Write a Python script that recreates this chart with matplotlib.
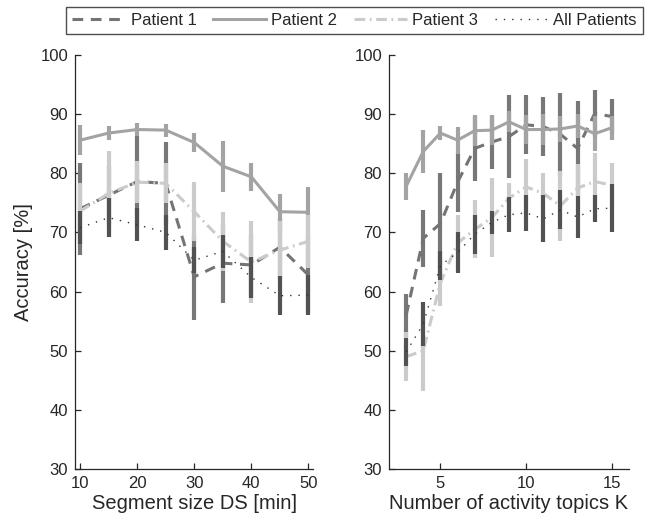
import matplotlib.pyplot as plt

plt.rcParams['font.family'] = ['Liberation Sans', 'DejaVu Sans']

# segment size DS [min]
ds = [10, 15, 20, 25, 30, 35, 40, 45, 50]
p1_ds = [74.0, 76.3, 78.6, 78.3, 62.5, 64.8, 64.5, 67.5, 62.8]
p1_ds_err = [7.8, 5.0, 7.7, 7.0, 7.3, 6.8, 5.0, 5.0, 6.5]
p2_ds = [85.6, 86.8, 87.4, 87.3, 85.2, 81.2, 79.4, 73.5, 73.4]
p2_ds_err = [2.5, 1.2, 1.1, 1.1, 1.6, 4.3, 2.4, 3.0, 4.3]
p3_ds = [73.6, 76.6, 78.5, 78.3, 73.5, 68.5, 65.0, 67.0, 68.5]
p3_ds_err = [4.7, 7.2, 3.5, 3.4, 5.0, 5.0, 7.0, 5.0, 4.5]
all_ds = [70.8, 72.5, 71.3, 70.0, 65.3, 66.8, 62.4, 59.3, 59.4]
all_ds_err = [2.8, 3.3, 2.8, 2.9, 2.2, 2.8, 3.5, 3.3, 3.4]

# number of activity topics K
k = [3, 4, 5, 6, 7, 8, 9, 10, 11, 12, 13, 14, 15]
p1_k = [56.0, 69.0, 71.5, 78.5, 84.2, 85.3, 86.2, 88.2, 87.9, 86.6, 84.2, 90.1, 89.6]
p1_k_err = [3.6, 4.8, 8.5, 5.0, 5.5, 4.5, 7.0, 5.0, 5.0, 7.0, 8.0, 4.0, 3.0]
p2_k = [77.8, 83.7, 86.8, 85.6, 87.2, 87.3, 88.7, 87.4, 87.4, 87.5, 88.0, 86.7, 87.7]
p2_k_err = [2.3, 3.7, 1.2, 2.3, 2.6, 2.5, 1.8, 2.5, 2.6, 2.2, 2.1, 3.0, 2.0]
p3_k = [49.0, 50.0, 61.5, 68.2, 70.5, 72.5, 75.8, 77.7, 76.6, 74.5, 77.5, 78.6, 78.0]
p3_k_err = [4.2, 6.8, 4.0, 4.8, 4.9, 6.7, 2.5, 4.8, 3.5, 5.9, 4.0, 4.8, 3.7]
all_k = [49.8, 54.5, 64.4, 66.6, 69.7, 71.7, 73.0, 73.3, 72.3, 73.8, 72.6, 74.0, 74.1]
all_k_err = [2.3, 3.7, 2.5, 3.4, 3.3, 1.9, 3.0, 3.0, 4.0, 3.3, 3.6, 2.3, 4.1]

labels = ["Patient 1", "Patient 2", "Patient 3", "All Patients"]
colors = ["#777777", "#a3a3a3", "#cbcbcb", "#525252"]
line_colors = ["#747474", "#a3a3a3", "#cbcbcb", "#333333"]
line_styles = [(0, (3.5, 2.5)), "-", (0, (3.5, 1.5, 0.6, 1.5)), (0, (1, 5))]
line_widths = [2.2, 2.2, 2.2, 1.0]

text_color = "#262626"

fig = plt.figure(figsize=(6.57, 5.17), dpi=100)
ax1 = fig.add_axes([75 / 657, 1 - 469 / 517, 238 / 657, 414 / 517])
ax2 = fig.add_axes([389 / 657, 1 - 469 / 517, 240 / 657, 414 / 517])

panels = [
    (ax1, ds, [p1_ds, p2_ds, p3_ds, all_ds], [p1_ds_err, p2_ds_err, p3_ds_err, all_ds_err]),
    (ax2, k, [p1_k, p2_k, p3_k, all_k], [p1_k_err, p2_k_err, p3_k_err, all_k_err]),
]

handles = []
for ax, x, means, errs in panels:
    handles = []
    for i in range(4):
        ax.errorbar(x, means[i], yerr=errs[i], fmt="none", ecolor=colors[i],
                    elinewidth=3.0, capsize=0, zorder=2 + i)
        h, = ax.plot(x, means[i], color=line_colors[i], linestyle=line_styles[i],
                     linewidth=line_widths[i], zorder=2 + i, label=labels[i])
        handles.append(h)

for ax in (ax1, ax2):
    ax.set_ylim(30, 100)
    ax.set_yticks(range(30, 101, 10))
    for side in ("top", "right"):
        ax.spines[side].set_visible(False)
    for side in ("left", "bottom"):
        ax.spines[side].set_color(text_color)
        ax.spines[side].set_linewidth(0.9)
    ax.tick_params(direction="in", length=4, width=0.9, labelsize=12,
                   colors=text_color, pad=5)

ax1.set_xlim(9.1, 50.8)
ax1.set_xticks([10, 20, 30, 40, 50])
ax2.set_xlim(2, 16)
ax2.set_xticks([5, 10, 15])

ax1.set_xlabel("Segment size DS [min]", fontsize=14.5, color=text_color, labelpad=2)
ax2.set_xlabel("Number of activity topics K", fontsize=14.5, color=text_color, labelpad=2)
ax1.set_ylabel("Accuracy [%]", fontsize=14.5, color=text_color, labelpad=5)

leg = fig.legend(handles, labels, loc="upper center", bbox_to_anchor=(354.5 / 657, 1 - 7 / 517),
                 ncol=4, fontsize=12, frameon=True, fancybox=False, handlelength=3.2,
                 handletextpad=0.3, columnspacing=1.0, borderpad=0.35, borderaxespad=0)
leg.get_frame().set_edgecolor("#222222")
leg.get_frame().set_linewidth(1.0)
for t in leg.get_texts():
    t.set_color(text_color)

fig.savefig("out.png", dpi=100)
